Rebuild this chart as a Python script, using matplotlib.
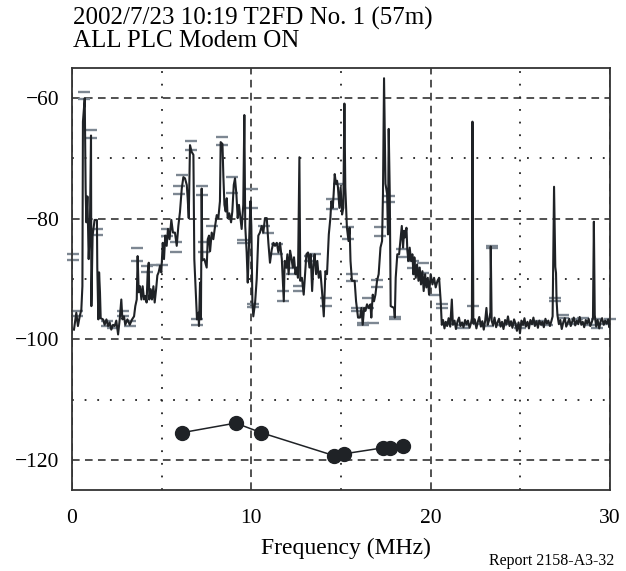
import matplotlib
matplotlib.use("Agg")
import matplotlib.pyplot as plt
from matplotlib.ticker import MultipleLocator

plt.rcParams['font.family'] = ['Liberation Serif', 'DejaVu Serif']

# spectrum trace (MHz, dB)
trace_f = [
    0.11, 0.24, 0.33, 0.43, 0.52, 0.58, 0.61, 0.71, 0.76, 0.80, 0.86, 0.93, 1.00, 1.06, 1.08,
    1.15, 1.26, 1.39, 1.41, 1.47, 1.51, 1.56, 1.60, 1.73, 1.82, 1.92, 2.01, 2.10, 2.19, 2.29,
    2.38, 2.47, 2.57, 2.66, 2.75, 2.81, 2.90, 2.97, 3.09, 3.22, 3.35, 3.46, 3.53, 3.61, 3.66,
    3.72, 3.79, 3.87, 3.94, 4.02, 4.09, 4.16, 4.22, 4.28, 4.31, 4.39, 4.46, 4.54, 4.61, 4.69,
    4.76, 4.83, 4.91, 4.98, 5.06, 5.13, 5.20, 5.28, 5.35, 5.44, 5.54, 5.63, 5.74, 5.84, 5.93,
    6.02, 6.12, 6.21, 6.30, 6.40, 6.45, 6.51, 6.58, 6.67, 6.77, 6.82, 6.90, 6.97, 7.05, 7.08,
    7.14, 7.19, 7.23, 7.27, 7.38, 7.51, 7.57, 7.64, 7.70, 7.79, 7.88, 7.98, 8.07, 8.16, 8.25,
    8.29, 8.39, 8.44, 8.50, 8.57, 8.63, 8.68, 8.77, 8.87, 8.94, 9.02, 9.09, 9.17, 9.24, 9.31,
    9.39, 9.46, 9.55, 9.61, 9.66, 9.74, 9.80, 9.87, 9.95, 10.00, 10.06, 10.11, 10.21, 10.30, 10.39,
    10.48, 10.58, 10.67, 10.76, 10.86, 10.95, 11.04, 11.14, 11.23, 11.32, 11.42, 11.51, 11.60, 11.70, 11.81,
    11.86, 11.94, 12.01, 12.08, 12.16, 12.23, 12.31, 12.38, 12.46, 12.53, 12.60, 12.68, 12.73, 12.82, 12.92,
    13.01, 13.07, 13.16, 13.24, 13.31, 13.39, 13.46, 13.53, 13.61, 13.68, 13.76, 13.85, 13.94, 14.04, 14.13,
    14.22, 14.32, 14.41, 14.46, 14.54, 14.59, 14.65, 14.72, 14.78, 14.83, 14.91, 14.98, 15.06, 15.13, 15.19,
    15.24, 15.33, 15.42, 15.48, 15.53, 15.61, 15.76, 15.84, 15.95, 16.06, 16.14, 16.21, 16.29, 16.36, 16.45,
    16.55, 16.64, 16.69, 16.77, 16.84, 16.92, 17.01, 17.10, 17.20, 17.29, 17.34, 17.40, 17.48, 17.57, 17.62,
    17.66, 17.72, 17.77, 17.96, 18.00, 18.05, 18.14, 18.24, 18.33, 18.39, 18.46, 18.52, 18.57, 18.65, 18.70,
    18.76, 18.83, 18.91, 18.98, 19.04, 19.09, 19.17, 19.24, 19.32, 19.39, 19.46, 19.54, 19.61, 19.69, 19.76,
    19.84, 19.91, 20.00, 20.10, 20.19, 20.28, 20.38, 20.47, 20.56, 20.62, 20.69, 20.77, 20.84, 20.92, 21.00,
    21.09, 21.18, 21.24, 21.33, 21.41, 21.50, 21.58, 21.66, 21.75, 21.83, 21.92, 22.00, 22.08, 22.17, 22.25,
    22.30, 22.33, 22.38, 22.46, 22.55, 22.63, 22.71, 22.80, 22.88, 22.96, 23.04, 23.11, 23.18, 23.26, 23.33,
    23.35, 23.40, 23.48, 23.56, 23.65, 23.73, 23.81, 23.90, 23.98, 24.06, 24.15, 24.23, 24.31, 24.40, 24.48,
    24.56, 24.65, 24.73, 24.81, 24.90, 24.98, 25.06, 25.15, 25.23, 25.31, 25.40, 25.48, 25.56, 25.65, 25.73,
    25.81, 25.90, 25.98, 26.06, 26.15, 26.23, 26.31, 26.40, 26.48, 26.56, 26.65, 26.73, 26.80, 26.88, 26.95,
    26.99, 27.02, 27.07, 27.15, 27.23, 27.31, 27.40, 27.48, 27.56, 27.65, 27.73, 27.81, 27.90, 27.98, 28.06,
    28.15, 28.23, 28.31, 28.40, 28.48, 28.56, 28.65, 28.73, 28.81, 28.90, 28.98, 29.05, 29.10, 29.15, 29.23,
    29.31, 29.40, 29.48, 29.56, 29.65, 29.73, 29.81, 29.90, 29.96, 30.00,
]
trace_db = [
    -98.4, -95.6, -97.8, -96.2, -95.1, -91.2, -63.9, -60.0, -75.0, -80.6, -76.3, -86.7, -81.2, -66.2, -94.5,
    -82.8, -80.2, -80.2, -88.1, -96.7, -88.9, -92.2, -96.5, -96.7, -97.6, -96.7, -97.8, -97.2, -98.4, -97.6,
    -97.8, -96.9, -99.2, -96.7, -93.4, -96.7, -96.2, -97.6, -96.7, -97.6, -96.7, -96.2, -94.5, -93.4, -86.2,
    -92.2, -91.2, -93.4, -91.2, -93.4, -92.8, -93.9, -88.9, -87.3, -93.4, -91.7, -93.4, -91.2, -93.9, -91.7,
    -89.4, -88.9, -87.8, -88.9, -84.0, -86.7, -82.8, -84.5, -81.7, -83.4, -80.2, -82.3, -82.3, -84.5, -81.2,
    -78.9, -75.0, -73.1, -73.3, -74.4, -76.6, -79.9, -67.8, -68.9, -69.4, -86.7, -92.2, -96.7, -95.6, -97.8,
    -90.6, -96.7, -75.0, -86.9, -86.7, -88.1, -83.4, -82.8, -85.4, -82.3, -83.4, -81.2, -79.4, -79.9, -77.1,
    -67.3, -67.6, -72.9, -77.7, -78.8, -76.6, -79.9, -79.1, -80.6, -78.8, -74.4, -73.3, -76.1, -79.9, -77.7,
    -79.9, -81.7, -77.7, -62.8, -81.2, -85.6, -90.6, -84.5, -77.1, -81.2, -93.9, -96.2, -93.9, -90.0, -82.8,
    -82.3, -81.2, -82.3, -79.9, -79.9, -84.0, -87.3, -85.1, -84.0, -84.5, -84.0, -85.6, -84.0, -86.7, -93.7,
    -87.0, -88.1, -85.9, -89.2, -85.3, -86.4, -88.1, -86.4, -89.2, -88.1, -89.8, -69.8, -90.3, -89.8, -92.6,
    -88.7, -85.9, -85.6, -88.1, -85.9, -92.0, -87.6, -85.9, -89.2, -87.0, -89.8, -88.7, -92.0, -96.2, -88.7,
    -89.2, -82.6, -79.8, -77.1, -78.2, -75.9, -72.6, -74.2, -73.7, -74.8, -78.2, -74.8, -79.3, -78.2, -60.9,
    -74.8, -81.5, -83.7, -81.5, -87.0, -90.3, -90.3, -93.7, -96.4, -96.4, -94.8, -97.6, -94.8, -95.3, -94.2,
    -94.8, -94.2, -96.4, -92.6, -93.7, -92.6, -90.3, -89.2, -84.8, -83.7, -75.9, -56.7, -74.2, -75.9, -82.6,
    -65.1, -75.9, -94.5, -94.8, -96.4, -89.8, -85.9, -85.9, -83.1, -81.2, -84.8, -82.0, -83.1, -81.5, -85.3,
    -87.0, -84.8, -87.0, -85.9, -89.2, -86.4, -89.8, -87.6, -90.3, -88.1, -90.9, -88.7, -92.0, -89.2, -91.4,
    -89.8, -92.6, -89.2, -90.9, -89.8, -91.4, -90.3, -89.8, -93.7, -97.6, -96.8, -98.2, -97.1, -97.8, -96.5,
    -97.9, -93.4, -97.6, -96.9, -98.3, -97.0, -96.4, -97.8, -97.2, -98.0, -96.8, -97.5, -96.9, -98.1, -97.3,
    -96.5, -63.9, -97.4, -96.7, -98.2, -97.1, -96.3, -97.9, -97.0, -98.4, -96.9, -94.8, -97.6, -96.8, -95.5,
    -84.6, -96.9, -97.7, -96.4, -98.0, -97.2, -96.6, -97.9, -97.1, -98.3, -96.8, -97.5, -96.2, -97.8, -97.0,
    -98.1, -96.7, -97.4, -98.6, -97.2, -99.0, -96.9, -97.6, -96.5, -97.9, -97.1, -98.2, -96.8, -97.5, -96.4,
    -97.8, -97.0, -98.1, -96.9, -97.6, -97.1, -98.0, -96.6, -97.4, -96.9, -97.8, -97.0, -96.2, -74.7, -88.0,
    -89.0, -93.5, -96.0, -97.5, -96.8, -98.3, -97.1, -96.5, -97.9, -97.2, -96.6, -97.8, -97.0, -96.4, -97.7,
    -96.9, -97.5, -96.3, -97.6, -97.1, -98.0, -96.8, -97.4, -96.6, -97.8, -97.2, -96.5, -80.5, -96.0, -97.9,
    -96.8, -98.2, -97.0, -96.5, -97.6, -96.9, -97.4, -96.7, -98.0, -97.0,
]

# grey level marks (MHz, dB)
mark_f = [
    0.05, 0.05, 0.28, 0.28, 0.67, 0.67, 1.04, 1.04, 1.41, 1.41, 1.93, 1.93, 2.30, 2.86, 2.86,
    3.23, 3.23, 3.64, 3.64, 4.16, 4.16, 4.63, 5.00, 5.28, 5.28, 5.80, 5.80, 5.95, 5.95, 6.15,
    6.62, 6.62, 6.95, 6.95, 7.23, 7.23, 7.35, 7.35, 7.80, 8.37, 8.37, 8.90, 8.90, 9.55, 9.55,
    10.02, 10.02, 10.11, 10.11, 10.70, 10.95, 11.42, 11.42, 11.79, 11.79, 12.25, 12.25, 12.68, 12.68, 13.27,
    13.27, 13.55, 14.17, 14.17, 14.48, 14.48, 14.90, 15.41, 15.41, 15.60, 15.60, 15.91, 15.91, 16.25, 16.25,
    16.53, 16.53, 16.80, 17.03, 17.03, 17.18, 17.18, 17.70, 17.70, 18.00, 18.00, 18.39, 18.39, 19.00, 19.00,
    19.31, 19.60, 19.60, 20.25, 20.62, 20.62, 21.20, 21.82, 21.82, 22.38, 22.70, 23.20, 23.40, 23.40, 23.90,
    24.50, 24.99, 24.99, 25.50, 26.00, 26.50, 26.94, 26.94, 27.40, 27.40, 27.80, 28.15, 28.50, 28.90, 29.26,
    29.26, 29.70, 30.00,
]
mark_db = [
    -85.9, -86.9, -95.3, -96.2, -58.9, -60.1, -65.3, -66.6, -81.7, -82.7, -97.0, -97.8, -98.1, -95.3, -96.2,
    -97.0, -97.8, -84.8, -87.0, -87.8, -88.9, -87.6, -87.6, -81.7, -82.8, -83.9, -85.6, -74.6, -75.9, -72.8,
    -67.1, -68.6, -96.7, -97.6, -74.6, -76.1, -83.9, -85.6, -81.2, -66.4, -67.7, -73.0, -75.7, -83.5, -84.0,
    -75.1, -78.2, -94.2, -94.7, -81.2, -82.4, -84.2, -85.8, -92.0, -93.6, -88.1, -89.2, -91.1, -92.0, -86.2,
    -87.0, -85.9, -93.1, -94.5, -76.7, -78.4, -74.2, -81.4, -83.4, -89.2, -90.3, -94.8, -95.3, -97.3, -97.6,
    -93.1, -94.8, -97.3, -90.1, -91.4, -81.4, -82.8, -76.2, -77.3, -96.3, -96.7, -85.1, -86.4, -87.0, -88.1,
    -89.2, -87.3, -89.0, -92.6, -94.2, -94.8, -97.4, -97.6, -98.1, -94.5, -97.5, -97.8, -84.5, -84.8, -97.6,
    -97.4, -97.6, -98.1, -97.5, -97.0, -97.6, -93.1, -93.7, -95.9, -96.4, -97.5, -96.7, -96.4, -97.6, -96.7,
    -98.1, -97.4, -96.7,
]

# lower curve with dots
dot_f = [6.12, 9.13, 10.56, 14.61, 15.17, 17.36, 17.74, 18.48]
dot_db = [-115.5, -113.9, -115.5, -119.3, -119.0, -118.0, -118.0, -117.7]

fig = plt.figure(figsize=(6.26, 5.71), dpi=100)
ax = fig.add_axes([72 / 626, 81 / 571, 538 / 626, 422 / 571])

ax.plot(mark_f, mark_db, ls="none", marker="_", ms=9, mew=1.7,
        color="#7d8792", clip_on=False, zorder=2)
ax.plot(trace_f, trace_db, color="#1f2226", lw=1.5, zorder=3)
ax.plot(dot_f, dot_db, color="#1f2226", lw=1.1, marker="o", ms=10, zorder=3)

ax.set_xlim(0, 30)
ax.set_ylim(-125, -55)
ax.xaxis.set_major_locator(MultipleLocator(10))
ax.xaxis.set_minor_locator(MultipleLocator(5))
ax.yaxis.set_major_locator(MultipleLocator(20))
ax.yaxis.set_minor_locator(MultipleLocator(10))
ax.set_yticks([-60, -80, -100, -120])
ax.set_yticklabels(["\u221260", "\u221280", "\u2212100", "\u2212120"])
ax.grid(which="major", color="#222222", ls=(0, (5, 3.5)), lw=1.1)
ax.grid(which="minor", color="#222222", ls=(0, (1, 6)), lw=1.3)
ax.tick_params(which="both", length=0, labelsize=15.5)
ax.tick_params(axis="x", pad=14)
ax.tick_params(axis="y", pad=9)
for sp in ax.spines.values():
    sp.set_color("#333333")
    sp.set_linewidth(1.3)

fig.text(73 / 626, 1 - 18 / 571, "2002/7/23 10:19 T2FD No. 1 (57m)",
         fontsize=18, ha="left", va="center")
fig.text(73 / 626, 1 - 41 / 571, "ALL PLC Modem ON",
         fontsize=18, ha="left", va="center")
fig.text(346 / 626, 1 - 548 / 571, "Frequency (MHz)", fontsize=17,
         ha="center", va="center")
fig.text(614 / 626, 1 - 561 / 571, "Report 2158-A3-32", fontsize=11.5,
         ha="right", va="center")

fig.savefig("out.png", dpi=100)
